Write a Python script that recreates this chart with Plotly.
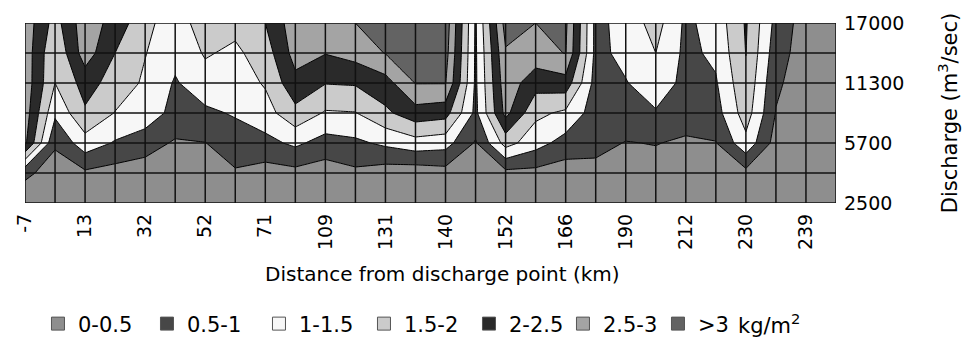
import plotly.graph_objects as go

# Distance labels shown along the x axis (every other survey column)
distance_labels = ["-7", "13", "32", "52", "71", "109", "131", "140",
                   "152", "166", "190", "212", "230", "239"]
# Discharge labels shown on the right axis (every other row)
discharge_labels = ["2500", "5700", "11300", "17000"]

# Deposition (kg/m2) per survey column, listed from the 17000 row down to the 2500 row
col_values = [
    [2.80, 2.80, 2.80, 2.75, 2.60, 0.60, 0.20],
    [1.80, 1.55, 1.50, 1.10, 0.56, 0.30, 0.20],
    [2.80, 2.76, 2.20, 1.93, 1.29, 0.41, 0.20],
    [2.30, 2.00, 1.80, 1.48, 0.95, 0.30, 0.20],
    [1.65, 1.52, 1.42, 1.35, 0.68, 0.30, 0.20],
    [1.20, 1.15, 0.95, 0.80, 0.45, 0.30, 0.20],
    [1.80, 1.55, 1.30, 0.90, 0.49, 0.30, 0.20],
    [1.65, 1.40, 1.25, 1.05, 0.75, 0.45, 0.20],
    [2.00, 1.75, 1.55, 1.30, 0.85, 0.30, 0.20],
    [2.80, 2.70, 2.35, 1.85, 1.10, 0.35, 0.20],
    [2.90, 2.52, 2.02, 1.45, 0.80, 0.25, 0.20],
    [3.00, 2.70, 2.05, 1.48, 0.90, 0.40, 0.20],
    [3.30, 3.02, 2.30, 1.90, 1.10, 0.25, 0.20],
    [3.30, 3.20, 3.02, 2.30, 1.30, 0.20, 0.20],
    [3.30, 3.20, 3.02, 2.20, 1.20, 0.30, 0.20],
    [0.95, 0.93, 0.92, 0.88, 0.45, 0.30, 0.20],
    [3.20, 2.95, 2.80, 2.65, 1.70, 0.35, 0.20],
    [3.00, 2.80, 2.20, 1.62, 1.20, 0.35, 0.20],
    [3.10, 3.02, 2.30, 1.40, 0.80, 0.25, 0.20],
    [0.85, 0.85, 0.80, 0.75, 0.65, 0.35, 0.20],
    [1.20, 1.15, 0.97, 0.80, 0.48, 0.30, 0.20],
    [1.70, 1.50, 1.30, 0.95, 0.52, 0.30, 0.20],
    [0.90, 0.88, 0.85, 0.75, 0.42, 0.30, 0.20],
    [1.20, 1.10, 0.95, 0.80, 0.48, 0.30, 0.20],
    [2.05, 2.01, 1.90, 1.75, 1.35, 0.35, 0.20],
    [0.85, 0.72, 0.58, 0.48, 0.30, 0.25, 0.20],
    [0.25, 0.25, 0.25, 0.25, 0.25, 0.25, 0.20],
    [0.20, 0.20, 0.20, 0.20, 0.20, 0.20, 0.20],
]

band_names = ["0-0.5", "0.5-1", "1-1.5", "1.5-2", "2-2.5", "2.5-3", ">3"]
band_colors = ["#8e8e8e", "#474747", "#f7f7f7", "#cbcbcb", "#2a2a2a", "#a4a4a4", "#636363"]
legend_widths = [64, 67, 60, 60, 49, 50, 40]

n_cols = len(col_values)
n_rows = len(col_values[0])
# z[row][col] with row 0 at the bottom (2500)
z = [[col_values[c][n_rows - 1 - r] for c in range(n_cols)] for r in range(n_rows)]

FONT = "DejaVu Sans, Verdana, sans-serif"

fig = go.Figure()
fig.add_trace(go.Contour(
    z=z, x=list(range(n_cols)), y=list(range(n_rows)),
    contours=dict(start=0.5, end=3.0, size=0.5, coloring="fill", showlines=True),
    line=dict(color="black", width=1, smoothing=0),
    colorscale=[[i / 6, col] for i, col in enumerate(band_colors)],
    showscale=False, hoverinfo="skip", showlegend=False,
))

# legend swatches
for name, col, lw in zip(band_names, band_colors, legend_widths):
    fig.add_trace(go.Scatter(
        x=[None], y=[None], mode="markers", name=name, legendwidth=lw,
        marker=dict(symbol="square", size=13, color=col, line=dict(color="#555", width=1)),
    ))

# cell grid drawn over the filled contours
shapes = []
for c in range(n_cols):
    shapes.append(dict(type="line", xref="x", yref="y", x0=c, x1=c, y0=0, y1=n_rows - 1,
                       line=dict(color="#111", width=1.5), layer="above"))
for r in range(n_rows):
    shapes.append(dict(type="line", xref="x", yref="y", x0=0, x1=n_cols - 1, y0=r, y1=r,
                       line=dict(color="#111", width=1.5), layer="above"))

fig.update_layout(
    width=962, height=339,
    margin=dict(l=25, r=126, t=23, b=136, autoexpand=False),
    paper_bgcolor="white", plot_bgcolor="white",
    font=dict(family=FONT, size=19, color="black"),
    shapes=shapes,
    xaxis=dict(range=[0, n_cols - 1], tickvals=list(range(0, n_cols, 2)),
               ticktext=distance_labels, tickangle=-90, showgrid=False, zeroline=False,
               ticks="", tickfont=dict(size=19), automargin=False, ticklabelstandoff=6),
    yaxis=dict(range=[0, n_rows - 1], side="right", tickvals=list(range(0, n_rows, 2)),
               ticktext=discharge_labels, showgrid=False, zeroline=False, ticks="",
               tickfont=dict(size=19), automargin=False, ticklabelstandoff=7,
               title=dict(text="Discharge (m<sup>3</sup>/sec)", font=dict(size=21), standoff=38)),
    legend=dict(orientation="h", x=0.016, xanchor="left", y=-0.672, yanchor="middle",
                font=dict(size=21), itemclick=False, tracegroupgap=0),
    annotations=[
        dict(text="Distance from discharge point (km)", xref="paper", yref="paper",
             x=0.515, y=-0.394, xanchor="center", yanchor="middle", showarrow=False,
             font=dict(size=20)),
        dict(text="kg/m<sup>2</sup>", xref="paper", yref="paper", x=0.877, y=-0.672,
             xanchor="left", yanchor="middle", showarrow=False, font=dict(size=21)),
    ],
)

fig.write_html("out.html")
